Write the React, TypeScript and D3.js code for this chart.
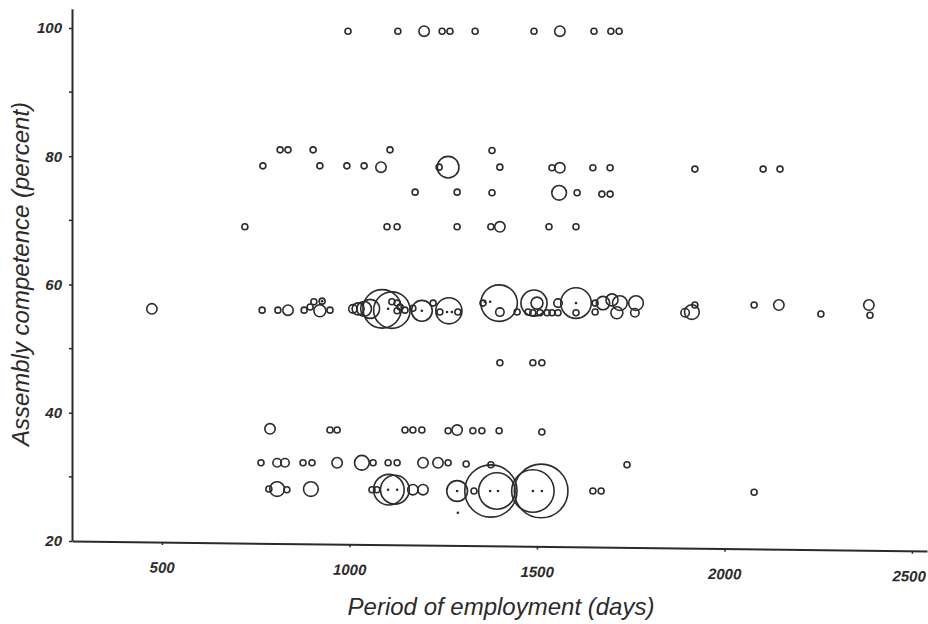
import React, { Component } from 'react';
import * as d3 from 'd3';

// each point: [days, percent, size]
const row100 = [
  [996, 99.5, 1], [1129, 99.5, 1], [1199, 99.5, 3], [1247, 99.5, 1], [1268, 99.5, 1],
  [1335, 99.5, 1], [1492, 99.5, 1], [1561, 99.5, 3], [1652, 99.5, 1], [1697, 99.5, 1],
  [1719, 99.5, 1],
];

const row81 = [
  [815, 81, 1], [836, 81, 1], [903, 81, 1], [1108, 81, 1], [1380, 80.9, 1],
];

const row78 = [
  [769, 78.5, 1], [921, 78.5, 1], [993, 78.5, 1], [1039, 78.5, 1], [1084, 78.3, 3],
  [1239, 78.3, 1], [1263, 78.3, 13], [1401, 78.3, 1], [1540, 78.2, 1], [1561, 78.2, 3],
  [1649, 78.2, 1], [1695, 78.2, 1], [1921, 78.0, 1], [2103, 78.0, 1], [2148, 78.0, 1],
];

const row74 = [
  [1175, 74.4, 1], [1287, 74.4, 1], [1380, 74.3, 1], [1559, 74.3, 6], [1607, 74.3, 1],
  [1673, 74.1, 1], [1695, 74.1, 1],
];

const row69 = [
  [721, 69, 1], [1100, 69, 1], [1127, 69, 1], [1287, 69, 1], [1377, 69, 1],
  [1401, 69, 3], [1532, 69, 1], [1604, 69, 1],
];

const row56 = [
  [473, 56.2, 3], [767, 56.0, 1], [809, 56.0, 1], [836, 56.0, 3], [879, 56.0, 1],
  [895, 56.5, 1], [905, 57.3, 1], [927, 57.4, 1], [921, 55.9, 4], [948, 56.0, 1],
  [1009, 56.2, 2], [1023, 56.2, 4], [1039, 56.2, 6], [1055, 56.2, 10],
  [1087, 56.2, 41], [1113, 56.0, 37],
  [1113, 57.3, 1], [1127, 57.1, 1], [1135, 56.5, 1], [1127, 55.9, 1], [1148, 56.0, 1],
  [1169, 56.3, 1], [1193, 55.9, 12], [1223, 57.1, 1], [1241, 55.7, 1], [1265, 55.9, 19],
  [1289, 55.7, 1], [1356, 57.1, 1], [1399, 57.1, 37], [1401, 55.7, 2], [1447, 55.7, 1],
  [1492, 57.1, 19], [1500, 57.1, 4], [1476, 55.7, 1], [1489, 55.6, 1], [1508, 55.6, 1],
  [1527, 55.6, 1], [1540, 55.6, 1], [1556, 57.1, 2], [1556, 55.6, 1], [1604, 57.1, 26],
  [1604, 55.6, 1], [1655, 57.1, 1], [1655, 55.7, 1], [1676, 57.1, 5], [1700, 57.6, 4],
  [1721, 57.1, 6], [1764, 57.1, 6], [1713, 55.6, 4], [1761, 55.6, 2],
  [1921, 56.8, 1], [1913, 55.7, 6], [1895, 55.6, 2], [2079, 56.8, 1], [2145, 56.8, 3],
  [2257, 55.4, 1], [2385, 56.8, 3], [2388, 55.2, 1],
];

const row48 = [
  [1401, 47.8, 1], [1489, 47.8, 1], [1513, 47.8, 1],
];

const row37 = [
  [788, 37.5, 3], [948, 37.3, 1], [967, 37.3, 1], [1148, 37.3, 1], [1169, 37.3, 1],
  [1193, 37.3, 1], [1263, 37.2, 1], [1287, 37.3, 3], [1329, 37.2, 1], [1353, 37.2, 1],
  [1399, 37.2, 1], [1513, 37.0, 1],
];

const row32 = [
  [764, 32.2, 1], [807, 32.2, 2], [828, 32.2, 2], [876, 32.2, 1], [900, 32.2, 1],
  [967, 32.2, 3], [1033, 32.2, 6], [1063, 32.2, 1], [1103, 32.2, 1], [1127, 32.2, 1],
  [1196, 32.2, 3], [1236, 32.2, 3], [1263, 32.2, 1], [1311, 32.0, 1], [1377, 31.9, 1],
  [1740, 31.9, 1],
];

const row28 = [
  [785, 28.1, 1], [807, 28.1, 6], [833, 28.0, 1], [897, 28.1, 6], [1060, 28.0, 1],
  [1073, 28.0, 1], [1105, 28.0, 26], [1121, 28.0, 23], [1169, 28.0, 3], [1196, 28.0, 3],
  [1287, 27.8, 12], [1332, 27.8, 1], [1377, 27.8, 76], [1393, 27.8, 37], [1489, 27.8, 50],
  [1511, 27.8, 80], [1649, 27.8, 1], [1671, 27.8, 1], [2079, 27.6, 1],
];

// tiny filled points: [days, percent]
const dots = [
  [1103, 56.2], [1193, 55.9], [1260, 55.7], [1273, 55.7], [1361, 57.3], [1375, 57.3],
  [1604, 57.1], [927, 57.4], [1103, 28.0], [1127, 28.0], [1287, 27.8], [1375, 27.8],
  [1396, 27.8], [1489, 27.8], [1513, 27.8], [1289, 24.4],
];

const xTicks = [500, 1000, 1500, 2000, 2500];
const yTicks = [20, 40, 60, 80, 100];
const yMinorTicks = [30, 50, 70, 90];

const points = [
  ...row100, ...row81, ...row78, ...row74, ...row69,
  ...row56, ...row48, ...row37, ...row32, ...row28,
];

const ink = '#2b2b2b';
const font = '"Liberation Sans", Arial, sans-serif';

class App extends Component {
  chartRef: React.RefObject<SVGSVGElement | null>;

  constructor(props: any) {
    super(props);
    this.chartRef = React.createRef();
  }

  componentDidMount() {
    this.renderD3();
  }

  renderD3() {
    const svg = d3.select(this.chartRef.current);
    svg.selectAll('*').remove();

    const x = d3.scaleLinear().domain([260, 2540]).range([72, 927]);
    const y = d3.scaleLinear().domain([20, 103]).range([541, 541 - 83 * 6.4125]);
    const r = d3.scaleSqrt().domain([0, 64]).range([0, 24]);

    // x axis (the scanned original is a little tilted)
    const xAxis = d3
      .axisBottom(x)
      .tickValues(xTicks)
      .tickFormat(d3.format('d'))
      .tickSize(3)
      .tickSizeOuter(0)
      .tickPadding(17);
    const xg = svg
      .append('g')
      .attr('transform', `translate(0,${y(20)}) rotate(0.67, 72, 0)`)
      .call(xAxis);
    xg.select('.domain').attr('stroke', ink).attr('stroke-width', 2);
    xg.selectAll('.tick line').attr('stroke', ink).attr('stroke-width', 1.5);
    xg.selectAll('.tick text')
      .attr('fill', ink)
      .style('font', `italic bold 15px ${font}`);
    // last label sits on the right edge, pull it in a little
    xg.selectAll('.tick text').filter(d => d === 2500).attr('dx', -3);

    // y axis
    const yAxis = d3
      .axisLeft(y)
      .tickValues(yTicks)
      .tickFormat(d3.format('d'))
      .tickSize(3)
      .tickSizeOuter(0)
      .tickPadding(7);
    const yg = svg.append('g').attr('transform', `translate(${x(260)},0)`).call(yAxis);
    yg.select('.domain').attr('stroke', ink).attr('stroke-width', 2);
    yg.selectAll('.tick line').attr('stroke', ink).attr('stroke-width', 1.5);
    yg.selectAll('.tick text')
      .attr('fill', ink)
      .style('font', `italic bold 15px ${font}`);

    yg.selectAll('.minor')
      .data(yMinorTicks)
      .enter()
      .append('line')
      .attr('class', 'minor')
      .attr('x1', -3)
      .attr('x2', 0)
      .attr('y1', d => y(d))
      .attr('y2', d => y(d))
      .attr('stroke', ink)
      .attr('stroke-width', 1.5);

    // axis titles
    svg
      .append('text')
      .attr('x', 501)
      .attr('y', 615)
      .attr('text-anchor', 'middle')
      .attr('fill', ink)
      .style('font', `italic 24px ${font}`)
      .text('Period of employment (days)');

    svg
      .append('text')
      .attr('transform', 'translate(29,274) rotate(-90)')
      .attr('text-anchor', 'middle')
      .attr('fill', ink)
      .style('font', `italic 24px ${font}`)
      .text('Assembly competence (percent)');

    // bubbles
    svg
      .append('g')
      .selectAll('circle')
      .data(points)
      .enter()
      .append('circle')
      .attr('cx', d => x(d[0]))
      .attr('cy', d => y(d[1]))
      .attr('r', d => r(d[2]))
      .attr('fill', 'none')
      .attr('stroke', ink)
      .attr('stroke-width', 1.6);

    svg
      .append('g')
      .selectAll('circle')
      .data(dots)
      .enter()
      .append('circle')
      .attr('cx', d => x(d[0]))
      .attr('cy', d => y(d[1]))
      .attr('r', 1.3)
      .attr('fill', ink);
  }

  render() {
    return (
      <svg
        ref={this.chartRef}
        width={928}
        height={624}
        style={{ position: 'absolute', left: 0, top: 0, background: '#fff' }}
      />
    );
  }
}

export default App;
